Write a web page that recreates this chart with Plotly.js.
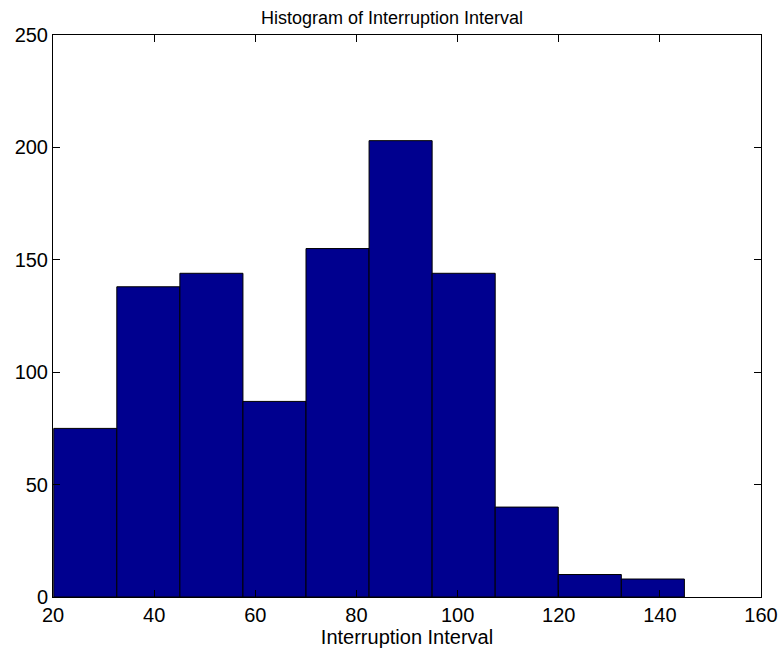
<!DOCTYPE html>
<html>
<head>
<meta charset="utf-8">
<script src="https://cdn.plot.ly/plotly-3.0.1.min.js"></script>
<style>html,body{margin:0;padding:0;background:#fff;}#chart{width:784px;height:658px;}</style>
</head>
<body>
<div id="chart"></div>
<script>
// Histogram bins (10 equal bins, MATLAB hist style)
const binStart = 20.15;
const binWidth = 12.47;
const counts = [75, 138, 144, 87, 155, 203, 144, 40, 10, 8];
const xTicks = [20, 40, 60, 80, 100, 120, 140, 160];
const yTicks = [0, 50, 100, 150, 200, 250];

const centers = counts.map((_, i) => binStart + binWidth * (i + 0.5));

const trace = {
  type: 'bar',
  x: centers,
  y: counts,
  width: counts.map(() => binWidth),
  marker: { color: 'rgb(0,0,143)', line: { color: '#000', width: 1 } },
  hoverinfo: 'x+y'
};

const font = { family: 'Liberation Sans, Arial, sans-serif', color: '#000' };

const layout = {
  width: 784, height: 658,
  margin: { l: 53, r: 23, t: 35, b: 61 },
  paper_bgcolor: '#fff', plot_bgcolor: '#fff',
  showlegend: false,
  bargap: 0,
  font: Object.assign({ size: 20 }, font),
  title: { text: 'Histogram of Interruption Interval', font: Object.assign({ size: 18 }, font), x: 0.5, xanchor: 'center', y: 0.973, yanchor: 'middle' },
  xaxis: {
    range: [20, 160], tickvals: xTicks, ticktext: xTicks.map(String),
    ticks: 'inside', ticklen: 7, tickcolor: '#000', tickwidth: 1,
    showline: true, linecolor: '#000', linewidth: 1, mirror: 'ticks',
    showgrid: false, zeroline: false,
    tickfont: Object.assign({ size: 20 }, font),
    title: { text: 'Interruption Interval', font: Object.assign({ size: 20 }, font), standoff: 4 }
  },
  yaxis: {
    range: [0, 250], tickvals: yTicks, ticktext: yTicks.map(String),
    ticks: 'inside', ticklen: 7, tickcolor: '#000', tickwidth: 1,
    showline: true, linecolor: '#000', linewidth: 1, mirror: 'ticks',
    showgrid: false, zeroline: false,
    tickfont: Object.assign({ size: 20 }, font)
  }
};

Plotly.newPlot('chart', [trace], layout, { displayModeBar: false, staticPlot: true });
</script>
</body>
</html>
